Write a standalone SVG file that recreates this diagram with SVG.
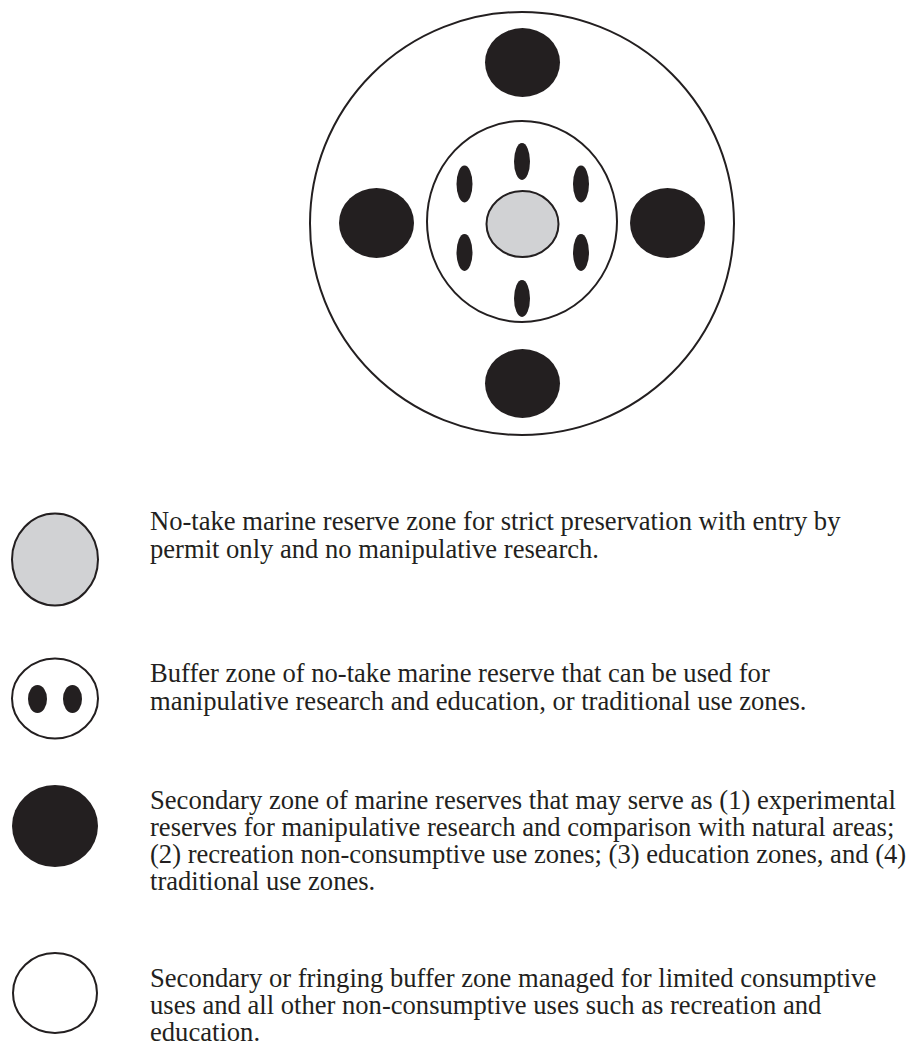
<svg xmlns="http://www.w3.org/2000/svg" width="912" height="1049" viewBox="0 0 912 1049">
<style>
.ln{fill:none;stroke:#231f20;stroke-width:2}
.blk{fill:#231f20}
.gry{fill:#d1d2d4;stroke:#231f20;stroke-width:2}
.wht{fill:#fff;stroke:#231f20;stroke-width:2}
text{font-family:"Liberation Serif","Times New Roman",serif;font-size:26.6px;fill:#231f20}
</style>
<rect width="912" height="1049" fill="#fff"/>
<g id="map">
<ellipse class="ln" cx="522" cy="223.5" rx="212" ry="211.5"/>
<ellipse class="blk" cx="522.5" cy="62.5" rx="37.5" ry="34.5"/>
<ellipse class="blk" cx="522.5" cy="383.5" rx="37.5" ry="34.5"/>
<ellipse class="blk" cx="376.5" cy="223" rx="37.5" ry="35"/>
<ellipse class="blk" cx="667.5" cy="223" rx="37.5" ry="35"/>
<ellipse class="ln" cx="522" cy="221.5" rx="95" ry="100.5"/>
<ellipse class="blk" cx="522" cy="161.5" rx="8" ry="18.5"/>
<ellipse class="blk" cx="522" cy="298.5" rx="8" ry="18.5"/>
<ellipse class="blk" cx="464.5" cy="184" rx="8" ry="18.5"/>
<ellipse class="blk" cx="581" cy="184" rx="8" ry="18.5"/>
<ellipse class="blk" cx="464.5" cy="252.5" rx="8" ry="18.5"/>
<ellipse class="blk" cx="581" cy="252.5" rx="8" ry="18.5"/>
<ellipse class="gry" cx="522.5" cy="224" rx="36" ry="33"/>
</g>
<g id="legend-notake">
<ellipse class="gry" cx="55" cy="559.5" rx="43" ry="46"/>
<text x="150" y="530">No-take  marine reserve zone for strict preservation with entry by</text>
<text x="150" y="558">permit only and no manipulative research.</text>
</g>
<g id="legend-buffer">
<ellipse class="wht" cx="55" cy="698.5" rx="43" ry="40"/>
<ellipse class="blk" cx="37.5" cy="699" rx="9.5" ry="14"/>
<ellipse class="blk" cx="72.5" cy="699" rx="9.5" ry="14"/>
<text x="150" y="682">Buffer zone of no-take marine reserve that can be used for</text>
<text x="150" y="710">manipulative research and education, or traditional use zones.</text>
</g>
<g id="legend-secondary">
<ellipse class="blk" cx="55" cy="826" rx="43" ry="41"/>
<text x="150" y="809">Secondary zone of marine reserves that may serve as (1) experimental</text>
<text x="150" y="836">reserves for manipulative research and comparison with natural areas;</text>
<text x="150" y="863">(2) recreation non-consumptive use zones; (3) education zones, and (4)</text>
<text x="150" y="890">traditional use zones.</text>
</g>
<g id="legend-fringing">
<ellipse class="wht" cx="55" cy="993" rx="42" ry="40"/>
<text x="150" y="987">Secondary or fringing buffer zone managed for limited consumptive</text>
<text x="150" y="1014">uses and all other non-consumptive uses such as recreation and</text>
<text x="150" y="1041">education.</text>
</g>
</svg>
